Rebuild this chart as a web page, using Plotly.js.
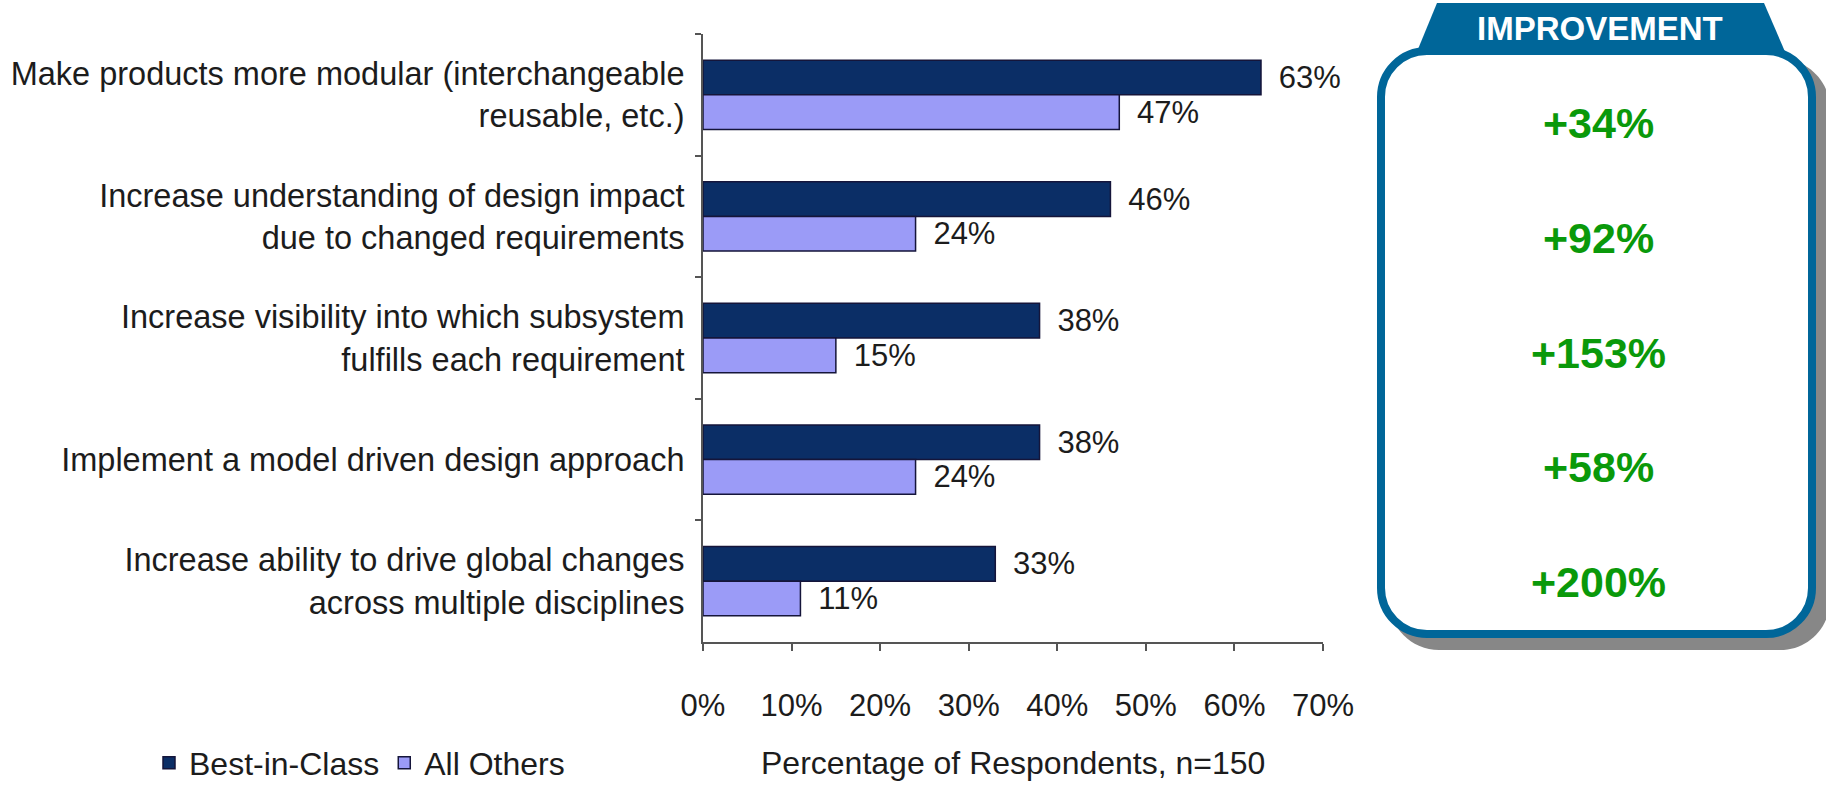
<!DOCTYPE html>
<html>
<head>
<meta charset="utf-8">
<script src="https://cdn.plot.ly/plotly-3.0.1.min.js"></script>
<style>html,body{margin:0;padding:0;background:#fff;}#chart{width:1826px;height:789px;}</style>
</head>
<body>
<div id="chart"></div>
<script>
// ---- data ----
const categories = [
  "Make products more modular (interchangeable<br>reusable, etc.)",
  "Increase understanding of design impact<br>due to changed requirements",
  "Increase visibility into which subsystem<br>fulfills each requirement",
  "Implement a model driven design approach",
  "Increase ability to drive global changes<br>across multiple disciplines"
];
const bestInClass = [63, 46, 38, 38, 33];
const allOthers = [47, 24, 15, 24, 11];
const improvement = ["+34%", "+92%", "+153%", "+58%", "+200%"];
const seriesNames = ["Best-in-Class", "All Others"];
const xTickVals = [0, 10, 20, 30, 40, 50, 60, 70];
const xTickText = ["0%", "10%", "20%", "30%", "40%", "50%", "60%", "70%"];
const xTitle = "Percentage of Respondents, n=150";
const panelTitle = "IMPROVEMENT";

// ---- layout geometry (pixels) ----
const FW = 1826, FH = 789;
const M = {l: 703, r: 503, t: 34, b: 147};
const PW = FW - M.l - M.r, PH = FH - M.t - M.b;
const px = X => (X - M.l) / PW;
const py = Y => (FH - M.b - Y) / PH;
const FONT = "Liberation Sans, Arial, Helvetica, sans-serif";
const TXT = "#1c1c1c";

function roundRect(x0, y0, x1, y1, r) {
  const k = 0.5523 * r;
  const P = (X, Y) => px(X).toFixed(5) + "," + py(Y).toFixed(5);
  return "M" + P(x0 + r, y0) +
    " L" + P(x1 - r, y0) +
    " C" + P(x1 - r + k, y0) + " " + P(x1, y0 + r - k) + " " + P(x1, y0 + r) +
    " L" + P(x1, y1 - r) +
    " C" + P(x1, y1 - r + k) + " " + P(x1 - r + k, y1) + " " + P(x1 - r, y1) +
    " L" + P(x0 + r, y1) +
    " C" + P(x0 + r - k, y1) + " " + P(x0, y1 - r + k) + " " + P(x0, y1 - r) +
    " L" + P(x0, y0 + r) +
    " C" + P(x0, y0 + r - k) + " " + P(x0 + r - k, y0) + " " + P(x0 + r, y0) + " Z";
}
function poly(pts) {
  return "M" + pts.map(p => px(p[0]).toFixed(5) + "," + py(p[1]).toFixed(5)).join(" L") + " Z";
}

const BLUE = "#006699";
const shapes = [
  {type: "path", xref: "paper", yref: "paper", path: roundRect(1389, 59, 1830, 650, 50),
   fillcolor: "#878787", line: {width: 0}},
  {type: "path", xref: "paper", yref: "paper", path: roundRect(1381, 51, 1812, 634, 46),
   fillcolor: "#ffffff", line: {color: BLUE, width: 8}},
  {type: "path", xref: "paper", yref: "paper",
   path: poly([[1437, 3], [1764, 3], [1786, 54], [1416, 54]]),
   fillcolor: BLUE, line: {width: 0}}
];

const annotations = [
  {xref: "paper", yref: "paper", x: px(1600), y: py(29), text: "<b>" + panelTitle + "</b>",
   showarrow: false, xanchor: "center", yanchor: "middle",
   font: {family: FONT, size: 33, color: "#ffffff"}},
  {xref: "paper", yref: "paper", x: 0.5, y: py(763), text: xTitle,
   showarrow: false, xanchor: "center", yanchor: "middle",
   font: {family: FONT, size: 32, color: TXT}}
];
const valTop = 123, valBottom = 582;
improvement.forEach((t, i) => {
  const Y = valTop + i * (valBottom - valTop) / (improvement.length - 1);
  annotations.push({xref: "paper", yref: "paper", x: px(1598), y: py(Y), text: "<b>" + t + "</b>",
    showarrow: false, xanchor: "center", yanchor: "middle",
    font: {family: FONT, size: 43, color: "#0A990A"}});
});

const barLine = {color: "#15153a", width: 1.5};
const traces = [
  {type: "bar", orientation: "h", name: seriesNames[0], y: categories, x: bestInClass,
   marker: {color: "#0B2E66", line: barLine},
   text: bestInClass.map(v => "\u00a0\u2009" + v + "%"), textposition: "outside",
   constraintext: "none", cliponaxis: false,
   textfont: {family: FONT, size: 31, color: TXT}, hoverinfo: "x+name"},
  {type: "bar", orientation: "h", name: seriesNames[1], y: categories, x: allOthers,
   marker: {color: "#9B9BF7", line: barLine},
   text: allOthers.map(v => "\u00a0\u2009" + v + "%"), textposition: "outside",
   constraintext: "none", cliponaxis: false,
   textfont: {family: FONT, size: 31, color: TXT}, hoverinfo: "x+name"}
];

const layout = {
  width: FW, height: FH,
  margin: M,
  paper_bgcolor: "#ffffff", plot_bgcolor: "#ffffff",
  font: {family: FONT, size: 31, color: TXT},
  barmode: "group", bargap: 0.43, bargroupgap: 0,
  showlegend: true,
  legend: {orientation: "h", xref: "container", yref: "container",
           x: 149 / FW, y: (FH - 763) / FH, xanchor: "left", yanchor: "middle",
           font: {family: FONT, size: 32, color: TXT}, bgcolor: "rgba(0,0,0,0)",
           itemwidth: 30, traceorder: "normal"},
  xaxis: {range: [0, 70], tickvals: xTickVals, ticktext: xTickText,
          showgrid: false, zeroline: false,
          showline: true, linecolor: "#555555", linewidth: 2,
          ticks: "outside", ticklen: 7, tickwidth: 2, tickcolor: "#555555",
          ticklabelstandoff: 28,
          tickfont: {family: FONT, size: 31, color: TXT}},
  yaxis: {type: "category", autorange: "reversed",
          showgrid: false, zeroline: false,
          showline: true, linecolor: "#555555", linewidth: 2,
          ticks: "outside", tickson: "boundaries", ticklen: 6, tickwidth: 2, tickcolor: "#555555",
          ticklabelstandoff: 10,
          tickfont: {family: FONT, size: 32.5, color: TXT}},
  shapes: shapes,
  annotations: annotations
};

Plotly.newPlot("chart", traces, layout, {displayModeBar: false, staticPlot: true});
</script>
</body>
</html>
